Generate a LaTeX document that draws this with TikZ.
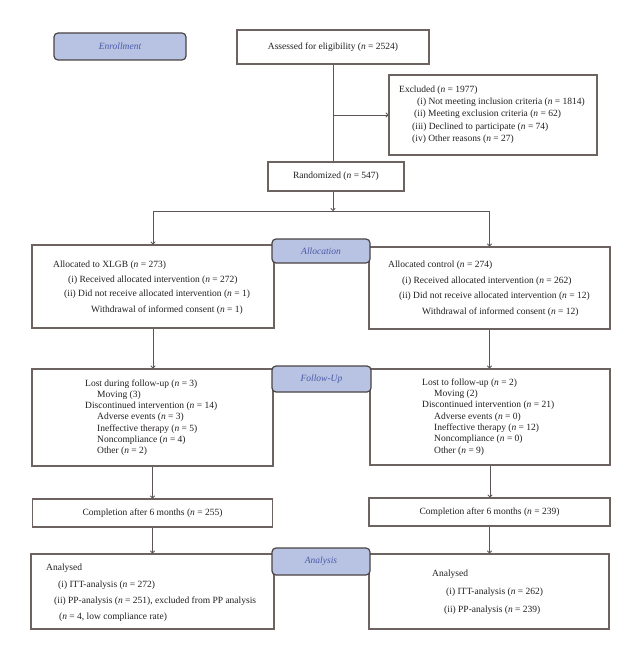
\documentclass[tikz,border=0pt]{standalone}
\usepackage{fontspec}
\setmainfont{Liberation Serif}
\usetikzlibrary{arrows.meta}
\definecolor{lblfill}{HTML}{B8C2E2}
\definecolor{lbltext}{HTML}{4A5AA8}
\definecolor{lbldraw}{HTML}{4A4444}
\definecolor{boxdraw}{HTML}{6D6360}
\definecolor{linecol}{HTML}{5D5555}
\definecolor{txt}{HTML}{231F20}
\newcommand{\nn}{\textit{n}}
\tikzset{
  box/.style={draw=boxdraw, line width=1.2pt, fill=white, rectangle, inner sep=0pt, text=txt,
    font=\fontsize{9.5}{11}\selectfont},
  lbl/.style={draw=lbldraw, line width=1.2pt, fill=lblfill, rounded corners=4pt, inner sep=0pt,
    text=lbltext, font=\fontsize{9.5}{11}\selectfont\itshape},
  tx/.style={anchor=base west, inner sep=0pt, text=txt, font=\fontsize{9.5}{11}\selectfont},
  conn/.style={draw=linecol, line width=0.9pt},
  arr/.style={conn, -{To[length=3pt,width=5pt]}}
}
\begin{document}
\begin{tikzpicture}[x=1pt,y=-1pt]
\useasboundingbox (0,0) rectangle (641,660);
% boxes
\node[box, minimum width=192pt, minimum height=34pt] (assess) at (333,47) {Assessed for eligibility (\nn{} = 2524)};
\node[box, minimum width=208pt, minimum height=80pt] (excl) at (493,115) {};
\node[box, minimum width=136pt, minimum height=29pt] (rand) at (336,176.5) {Randomized (\nn{} = 547)};
\coordinate (split) at (333,211);
\node[box, minimum width=242pt, minimum height=83pt] (xlgb) at (153,286.5) {};
\node[box, minimum width=241pt, minimum height=82pt] (ctrl) at (489.5,288) {};
\node[box, minimum width=241pt, minimum height=97pt] (ful) at (152.5,417.5) {};
\node[box, minimum width=240pt, minimum height=96pt] (fur) at (490,417) {};
\node[box, minimum width=240pt, minimum height=28pt] (compl) at (152.5,513) {Completion after 6 months (\nn{} = 255)};
\node[box, minimum width=241pt, minimum height=28pt] (compr) at (489.5,512) {Completion after 6 months (\nn{} = 239)};
\node[box, minimum width=243pt, minimum height=75pt] (anl) at (152.5,591.5) {};
\node[box, minimum width=240pt, minimum height=75pt] (anr) at (489,591.5) {};

% connectors
\draw[conn] (assess.south) -- (assess.south |- rand.north);
\draw[arr] (assess.south |- excl.west) -- (excl.west);
\draw[arr] (assess.south |- rand.south) -- (split);
\draw[conn] (split -| xlgb.north) -- (split -| ctrl.north);
\draw[arr] (split -| xlgb.north) -- (xlgb.north);
\draw[arr] (split -| ctrl.north) -- (ctrl.north);
\draw[arr] (xlgb.south) -- (xlgb.south |- ful.north);
\draw[arr] (ctrl.south) -- (ctrl.south |- fur.north);
\draw[arr] (ful.south) -- (ful.south |- compl.north);
\draw[arr] (fur.south) -- (fur.south |- compr.north);
\draw[arr] (compl.south) -- (compl.south |- anl.north);
\draw[arr] (compr.south) -- (compr.south |- anr.north);

% excluded text
\node[tx] (e1) at (399,93) {Excluded (\nn{} = 1977)};
\node[tx] (e2) at (417,105) {(i) Not meeting inclusion criteria (\nn{} = 1814)};
\node[tx] (e3) at (414,117) {(ii) Meeting exclusion criteria (\nn{} = 62)};
\node[tx] (e4) at (412,130) {(iii) Declined to participate (\nn{} = 74)};
\node[tx] (e5) at (412,142) {(iv) Other reasons (\nn{} = 27)};

% allocated XLGB
\node[tx] (a1) at (53,267) {Allocated to XLGB (\nn{} = 273)};
\node[tx] (a2) at (68,282) {(i) Received allocated intervention (\nn{} = 272)};
\node[tx] (a3) at (64,296) {(ii) Did not receive allocated intervention (\nn{} = 1)};
\node[tx] (a4) at (91,312) {Withdrawal of informed consent (\nn{} = 1)};

% allocated control
\node[tx] (c1) at (388,267) {Allocated control (\nn{} = 274)};
\node[tx] (c2) at (402,283) {(i) Received allocated intervention (\nn{} = 262)};
\node[tx] (c3) at (399,298) {(ii) Did not receive allocated intervention (\nn{} = 12)};
\node[tx] (c4) at (422,314) {Withdrawal of informed consent (\nn{} = 12)};

% follow-up left
\node[tx] (f1) at (85,386) {Lost during follow-up (\nn{} = 3)};
\node[tx] (f2) at (97,397.3) {Moving (3)};
\node[tx] (f3) at (85,408.6) {Discontinued intervention (\nn{} = 14)};
\node[tx] (f4) at (97,419.9) {Adverse events (\nn{} = 3)};
\node[tx] (f5) at (97,431.2) {Ineffective therapy (\nn{} = 5)};
\node[tx] (f6) at (97,442.5) {Noncompliance (\nn{} = 4)};
\node[tx] (f7) at (97,453.8) {Other (\nn{} = 2)};

% follow-up right
\node[tx] (g1) at (422,385.3) {Lost to follow-up (\nn{} = 2)};
\node[tx] (g2) at (434,396.6) {Moving (2)};
\node[tx] (g3) at (422,407.9) {Discontinued intervention (\nn{} = 21)};
\node[tx] (g4) at (434,419.2) {Adverse events (\nn{} = 0)};
\node[tx] (g5) at (434,430.5) {Ineffective therapy (\nn{} = 12)};
\node[tx] (g6) at (434,441.8) {Noncompliance (\nn{} = 0)};
\node[tx] (g7) at (434,453.1) {Other (\nn{} = 9)};

% analysed left
\node[tx] (l1) at (46,570) {Analysed};
\node[tx] (l2) at (58,587) {(i) ITT-analysis (\nn{} = 272)};
\node[tx] (l3) at (54,603) {(ii) PP-analysis (\nn{} = 251), excluded from PP analysis};
\node[tx] (l4) at (59,619) {(\nn{} = 4, low compliance rate)};

% analysed right
\node[tx] (r1) at (432,576) {Analysed};
\node[tx] (r2) at (446,594) {(i) ITT-analysis (\nn{} = 262)};
\node[tx] (r3) at (444,612) {(ii) PP-analysis (\nn{} = 239)};

% stage labels
\node[lbl, minimum width=132pt, minimum height=27pt] (enroll) at (120,46.5) {Enrollment};
\node[lbl, minimum width=98pt, minimum height=24pt] (alloc) at (321,251) {Allocation};
\node[lbl, minimum width=99pt, minimum height=26pt] (fu) at (321.5,379) {Follow-Up};
\node[lbl, minimum width=98pt, minimum height=27pt] (an) at (321,561.5) {Analysis};
\end{tikzpicture}
\end{document}
